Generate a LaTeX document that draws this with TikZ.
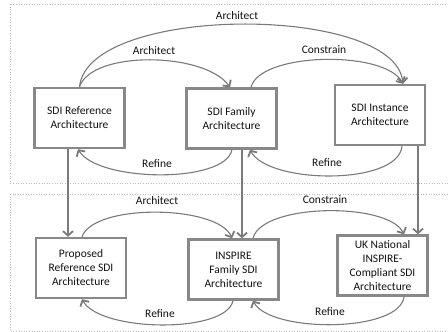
\documentclass[tikz,border=0pt]{standalone}
\usepackage{fontspec}
\setmainfont{Carlito}
\usetikzlibrary{arrows.meta}
\definecolor{lgray}{HTML}{7A7A7A}
\definecolor{bgray}{HTML}{888888}
\definecolor{dgray}{HTML}{BBBBBB}
\definecolor{txt}{HTML}{111111}
\tikzset{
  archbox/.style={draw=bgray, line width=2.4pt, minimum width=90pt, minimum height=60pt, align=center, text=txt, font=\fontsize{11.5}{14}\selectfont, inner sep=1pt},
  conn/.style={draw=lgray, line width=1.1pt, -{Straight Barb[length=4.5pt,width=10pt,line width=1.8pt]}},
  lbl/.style={text=txt, font=\fontsize{11.5}{13}\selectfont, inner sep=0pt},
  frame/.style={draw=dgray, dotted, line width=0.6pt}
}
\begin{document}
\begin{tikzpicture}[x=1pt,y=-1pt]
\useasboundingbox (0,0) rectangle (448,332);
\clip (0,0) rectangle (448,332);
\draw[frame] (10,4) rectangle (470,183);
\draw[frame] (10,194) rectangle (470,331);

\node[archbox] (ref) at (79.5,118) {SDI Reference\\Architecture};
\node[archbox] (fam) at (231.5,118.5) {SDI Family\\Architecture};
\node[archbox] (inst) at (380,115) {SDI Instance\\Architecture};
\node[archbox] (prop) at (81,268) {Proposed\\Reference SDI\\Architecture};
\node[archbox] (insp) at (233.5,269.5) {INSPIRE\\Family SDI\\Architecture};
\node[archbox] (uk) at (382.5,265.5) {UK National\\INSPIRE-\\Compliant SDI\\Architecture};

% top group
\draw[conn] (ref.north) .. controls (88,4) and (395,4) .. ([xshift=23pt]inst.north);
\draw[conn] (ref.north) .. controls (92,50) and (205,52) .. ([xshift=-1.5pt]fam.north);
\draw[conn] ([xshift=19.5pt]fam.north) .. controls (260,52) and (385,50) .. ([xshift=23pt]inst.north);
\draw[conn] ([xshift=0.5pt]fam.south) .. controls (225,184) and (98,182) .. ([xshift=-1.5pt]ref.south);
\draw[conn] ([xshift=22pt]inst.south) .. controls (398,186) and (268,184) .. ([xshift=18.5pt]fam.south);

\node[lbl] (l1) at (237,16) {Architect};
\node[lbl] (l2) at (154,51) {Architect};
\node[lbl] (l3) at (324,50) {Constrain};
\node[lbl] (l4) at (157,164) {Refine};
\node[lbl] (l5) at (327,163) {Refine};

% verticals
\draw[conn] ([xshift=-11.5pt]ref.south) -- ([xshift=-11.5pt]ref.south |- prop.north);
\draw[conn] ([xshift=10.5pt]fam.south) -- ([xshift=10.5pt]fam.south |- insp.north);
\draw[conn] ([xshift=38pt]inst.south) -- ([xshift=38pt]inst.south |- uk.north);

% bottom group
\draw[conn] ([xshift=1pt]prop.north) .. controls (94,203) and (218,205) .. ([xshift=-1.5pt]insp.north);
\draw[conn] ([xshift=19.5pt]insp.north) .. controls (262,203) and (388,202) .. ([xshift=21.5pt]uk.north);
\draw[conn] ([xshift=-0.5pt]insp.south) .. controls (226,334) and (100,332) .. ([xshift=1pt]prop.south);
\draw[conn] ([xshift=21.5pt]uk.south) .. controls (400,333) and (270,333) .. ([xshift=19.5pt]insp.south);

\node[lbl] (l6) at (157,201) {Architect};
\node[lbl] (l7) at (325,200) {Constrain};
\node[lbl] (l8) at (160,314) {Refine};
\node[lbl] (l9) at (330,312) {Refine};
\end{tikzpicture}
\end{document}
